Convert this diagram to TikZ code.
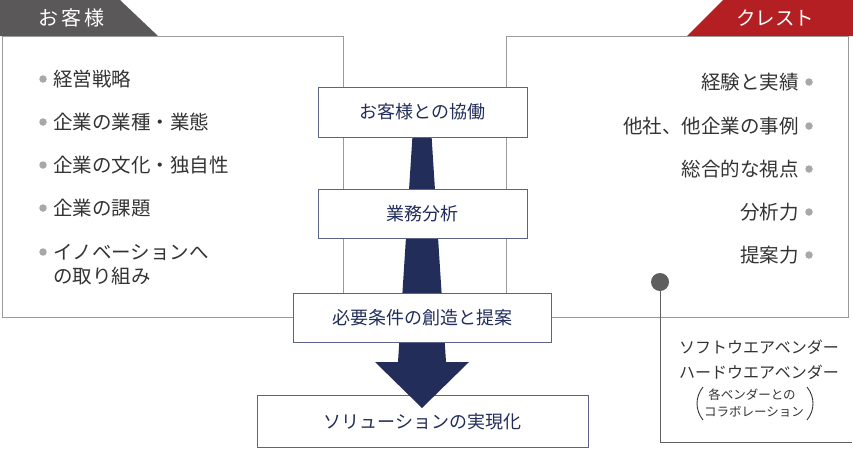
\documentclass[tikz,border=0pt]{standalone}
\usepackage{fontspec}
\setmainfont{Noto Sans CJK JP}
\definecolor{navy}{HTML}{222D5A}
\definecolor{tabgray}{HTML}{5B5859}
\definecolor{crestred}{HTML}{B41F24}
\definecolor{boxgray}{HTML}{9A9A9A}
\definecolor{textgray}{HTML}{333333}
\definecolor{bulletgray}{HTML}{A8A8A8}
\definecolor{dotgray}{HTML}{5E5E5E}
\definecolor{cboxline}{HTML}{5C6486}
\begin{document}
\begin{tikzpicture}[x=1pt,y=-1pt,
  bigbox/.style={draw=boxgray,line width=0.9pt},
  cbox/.style={draw=cboxline,line width=0.9pt,fill=white},
  ctext/.style={text=navy,font=\fontsize{18}{20}\selectfont,inner sep=0pt},
  ltext/.style={text=textgray,font=\fontsize{19.5}{22}\selectfont,inner sep=0pt,anchor=west},
  rtext/.style={text=textgray,font=\fontsize{19.5}{22}\selectfont,inner sep=0pt,anchor=east},
  bullet/.style={circle,fill=bulletgray,inner sep=0pt,minimum size=7.5pt},
  tabtext/.style={text=white,font=\fontsize{20}{22}\selectfont\addfontfeature{LetterSpace=15},inner sep=0pt},
  vtext/.style={text=textgray,inner sep=0pt}]
\useasboundingbox (0,0) rectangle (853,448);
% tabs
\fill[tabgray] (0,0) -- (120,0) -- (158,36) -- (0,36) -- cycle;
\node[tabtext] (tabL) at (71,18) {お客様};
\fill[crestred] (723,0) -- (853,0) -- (853,36) -- (687,36) -- cycle;
\node[tabtext,font=\fontsize{19.5}{22}\selectfont] (tabR) at (775,18) {クレスト};
% big boxes
\draw[bigbox] (2,36) rectangle (343,317);
\draw[bigbox] (506,36) rectangle (848,317);
% left list
\node[bullet] (lb1) at (43,79) {};
\node[ltext] (l1) at (53,79) {経営戦略};
\node[bullet] (lb2) at (43,122) {};
\node[ltext] (l2) at (53,122) {企業の業種・業態};
\node[bullet] (lb3) at (43,165) {};
\node[ltext] (l3) at (53,165) {企業の文化・独自性};
\node[bullet] (lb4) at (43,208) {};
\node[ltext] (l4) at (53,208) {企業の課題};
\node[bullet] (lb5) at (43,252) {};
\node[ltext] (l5) at (53,252) {イノベーションへ};
\node[ltext] (l6) at (53,276) {の取り組み};
% right list
\node[bullet] (rb1) at (809,82) {};
\node[rtext] (r1) at (799,82) {経験と実績};
\node[bullet] (rb2) at (809,126) {};
\node[rtext] (r2) at (799,126) {他社、他企業の事例};
\node[bullet] (rb3) at (809,169) {};
\node[rtext] (r3) at (799,169) {総合的な視点};
\node[bullet] (rb4) at (809,212) {};
\node[rtext] (r4) at (799,212) {分析力};
\node[bullet] (rb5) at (809,255) {};
\node[rtext] (r5) at (799,255) {提案力};
% vendor callout
\node[circle,fill=dotgray,inner sep=0pt,minimum size=18pt] (dot) at (660,282) {};
\coordinate (corner) at (660,442);
\coordinate (lineend) at (852,442);
\draw[dotgray,line width=0.9pt] (dot.center) -- (corner) -- (lineend);
\node[vtext,font=\fontsize{16}{18}\selectfont] (v1) at (759,347) {ソフトウエアベンダー};
\node[vtext,font=\fontsize{16}{18}\selectfont] (v2) at (759,372) {ハードウエアベンダー};
\node[vtext,font=\fontsize{12.5}{14}\selectfont] (v3) at (752,395) {各ベンダーとの};
\node[vtext,font=\fontsize{12.5}{14}\selectfont] (v4) at (754,412) {コラボレーション};
\draw[textgray,line width=0.9pt] (703,387) .. controls (695,397) and (695,410) .. (703,420);
\draw[textgray,line width=0.9pt] (807,387) .. controls (815,397) and (815,410) .. (807,420);
% bottom box and arrow
\node[cbox,minimum width=331pt,minimum height=52pt,inner sep=0pt] (b4) at (422.5,421) {};
\fill[navy] (414,112) -- (430,112) -- (446,362) -- (469,362) -- (422,408) -- (375,362) -- (398,362) -- cycle;
\node[ctext] (t4) at (422.5,422) {ソリューションの実現化};
% center boxes
\node[cbox,minimum width=209pt,minimum height=50pt] (b1) at (422.5,112) {};
\node[ctext] (t1) at (b1) {お客様との協働};
\node[cbox,minimum width=209pt,minimum height=49pt] (b2) at (422.5,213.5) {};
\node[ctext] (t2) at (b2) {業務分析};
\node[cbox,minimum width=258pt,minimum height=49pt] (b3) at (422,317.5) {};
\node[ctext] (t3) at (b3) {必要条件の創造と提案};
\end{tikzpicture}
\end{document}
